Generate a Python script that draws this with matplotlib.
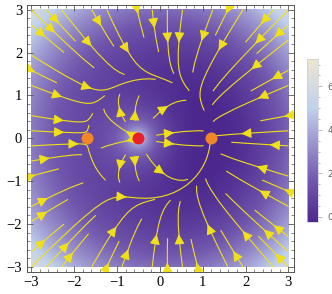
import numpy as np
import matplotlib
matplotlib.use("Agg")
import matplotlib.pyplot as plt
from matplotlib.colors import LinearSegmentedColormap

# field: linear pull to origin plus a 2D source at the red point
source_xy = [-0.5, 0.0]
source_strength = 2.0
pull = 1.0

# equilibrium points (orange) and the source (red)
eq_x = [-1.7, 1.2]
eq_y = [0.0, 0.0]
src_x = [-0.5]
src_y = [0.0]

ticks = [-3, -2, -1, 0, 1, 2, 3]
cbar_ticks = [0, 2, 4, 6]
vmin, vmax = -0.23, 7.25

# colours approximating Mathematica's default density gradient
cmap = LinearSegmentedColormap.from_list("m10", [
    (0.00, (0.30, 0.16, 0.56)),
    (0.25, (0.44, 0.34, 0.68)),
    (0.50, (0.62, 0.60, 0.82)),
    (0.70, (0.75, 0.82, 0.93)),
    (1.00, (0.93, 0.90, 0.82)),
])

n = 300
xs = np.linspace(-3, 3, n)
ys = np.linspace(-3, 3, n)
X, Y = np.meshgrid(xs, ys)
d2 = (X - source_xy[0])**2 + (Y - source_xy[1])**2
phi = pull*(X**2 + Y**2)/2 - source_strength/2*np.log(d2)
U = -pull*X + source_strength*(X - source_xy[0])/d2
V = -pull*Y + source_strength*(Y - source_xy[1])/d2

fig = plt.figure(figsize=(3.32, 2.94), dpi=100)
ax = fig.add_axes([0.0813, 0.0748, 0.804, 0.908])
im = ax.imshow(phi, extent=[-3, 3, -3, 3], origin="lower", cmap=cmap,
               vmin=vmin, vmax=vmax, interpolation="bilinear", zorder=0)
ax.streamplot(X, Y, U, V, density=0.6, color="#F0E018", linewidth=0.8,
              arrowsize=1.5, arrowstyle="-|>", zorder=2)
ax.scatter(eq_x, eq_y, s=75, color="#F0862A", zorder=4, linewidths=0)
ax.scatter(src_x, src_y, s=75, color="#E8202A", zorder=4, linewidths=0)

ax.set_xlim(-3.1, 3.13)
ax.set_ylim(-3.11, 3.1)
ax.set_xticks(ticks)
ax.set_yticks(ticks)
ax.set_xticks(np.arange(-3, 3.01, 0.2), minor=True)
ax.set_yticks(np.arange(-3, 3.01, 0.2), minor=True)
ax.set_xticklabels(["\u22123", "\u22122", "\u22121", "0", "1", "2", "3"])
ax.set_yticklabels(["\u22123", "\u22122", "\u22121", "0", "1", "2", "3"])
ax.tick_params(which="both", direction="in", top=True, right=True,
               color="#555555", labelsize=10.5)
ax.tick_params(which="major", length=4, width=0.6)
ax.tick_params(which="minor", length=2, width=0.5)
for lab in ax.get_xticklabels() + ax.get_yticklabels():
    lab.set_family("Liberation Serif")
for s in ax.spines.values():
    s.set_color("#555555")
    s.set_linewidth(0.7)

cax = fig.add_axes([0.925, 0.245, 0.033, 0.554])
cb = fig.colorbar(im, cax=cax, ticks=cbar_ticks)
cb.outline.set_edgecolor("#cccccc")
cb.outline.set_linewidth(0.5)
cax.yaxis.set_minor_locator(matplotlib.ticker.MultipleLocator(0.5))
cax.tick_params(which="both", color="#999999", labelcolor="#666666",
                labelsize=6.5, direction="out", width=0.5)
cax.tick_params(which="major", length=3)
cax.tick_params(which="minor", length=1.5)

fig.savefig("out.png", dpi=100)
